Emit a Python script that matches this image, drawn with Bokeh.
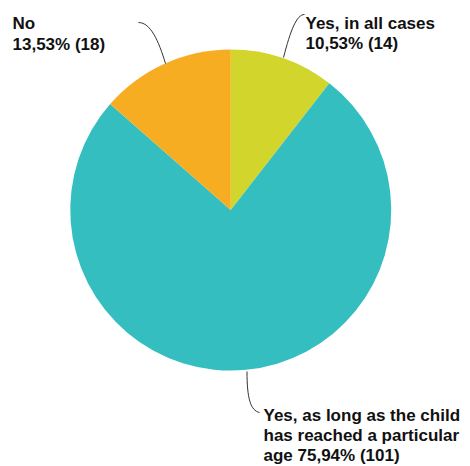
import numpy as np
from bokeh.plotting import figure
from bokeh.models import Range1d, ColumnDataSource
from bokeh.core.properties import value
from bokeh.embed import file_html
from bokeh.resources import INLINE

# ---- data ----
categories = ["Yes, in all cases",
              "Yes, as long as the child has reached a particular age",
              "No"]
counts = [14, 101, 18]
colors = ["#D2D52B", "#35BEBF", "#F6AD21"]

# how each category's label is wrapped
label_wrap = [
    ["Yes, in all cases"],
    ["Yes, as long as the child", "has reached a particular", "age"],
    ["No"],
]

W, H = 470, 466
p = figure(width=W, height=H, x_range=Range1d(0, W), y_range=Range1d(0, H),
           output_backend="svg", toolbar_location=None, min_border=0)
p.axis.visible = False
p.grid.visible = False
p.outline_line_color = None
p.background_fill_color = "white"
p.border_fill_color = "white"


def px(x, y):
    # image pixel coords -> data coords
    return x, H - y


total = sum(counts)
fracs = np.array(counts) / total
cum = np.concatenate([[0], np.cumsum(fracs)])
start = np.pi / 2 - 2 * np.pi * cum[:-1]
end = np.pi / 2 - 2 * np.pi * cum[1:]
cx, cy = px(230.25, 209.5)
src = ColumnDataSource(dict(x=[cx] * 3, y=[cy] * 3, start=start, end=end, color=colors))
p.wedge(x='x', y='y', radius=160.5, start_angle='start', end_angle='end',
        direction='clock', fill_color='color', line_color=None, source=src)

# ---- connector lines (layout) ----
conns = [
    [(304, 14), (296, 14), (290, 30), (283, 57)],
    [(246.5, 371), (246.5, 398), (250, 410), (259, 412)],
    [(138, 22), (150, 22), (158, 40), (165, 63)],
]
for (a, c0, c1, b) in conns:
    x0, y0 = px(*a); x1, y1 = px(*b)
    cx0, cy0 = px(*c0); cx1, cy1 = px(*c1)
    p.bezier(x0=[x0], y0=[y0], x1=[x1], y1=[y1], cx0=[cx0], cy0=[cy0],
             cx1=[cx1], cy1=[cy1], line_color="#333333", line_width=1)

# ---- labels ----
def pct_text(c):
    return "{}% ({})".format(("%.2f" % (100.0 * c / total)).replace(".", ","), c)

label_pos = [(305, [23, 43]), (263, [415, 435, 455]), (12, [23, 44])]
for i, c in enumerate(counts):
    lines = list(label_wrap[i])
    if len(lines) == 1:
        lines.append(pct_text(c))
    else:
        lines[-1] = lines[-1] + " " + pct_text(c)
    x0, ybs = label_pos[i]
    xs, ys = [], []
    for k, ln in enumerate(lines):
        x, y = px(x0, ybs[k])
        xs.append(x); ys.append(y)
    p.text(x=xs, y=ys, text=lines, text_font=value("Liberation Sans"),
           text_font_style="bold", text_font_size=value("17px"),
           text_color="#111111", text_align="left", text_baseline="alphabetic")

open("out.html", "w").write(file_html(p, INLINE))
